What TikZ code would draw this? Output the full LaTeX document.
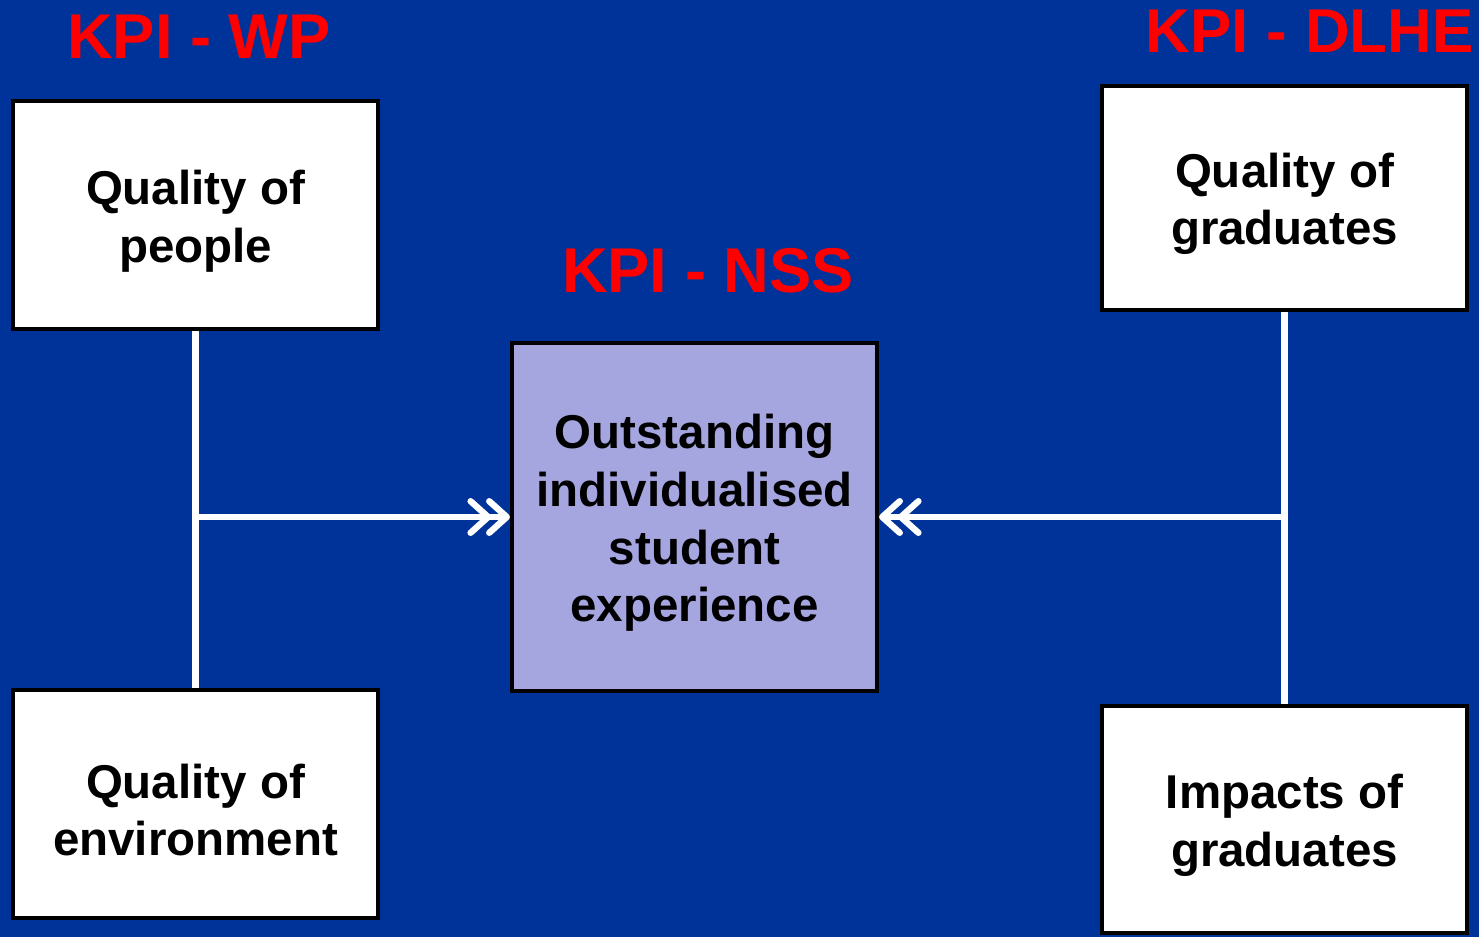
\documentclass[tikz,border=0pt]{standalone}
\usepackage{fontspec}
\setmainfont{Liberation Sans}
\usetikzlibrary{arrows.meta}
\definecolor{slideblue}{HTML}{003399}
\definecolor{lavender}{HTML}{A5A5E0}
\colorlet{kpired}{red}

\begin{document}
\begin{tikzpicture}[x=0.01cm,y=-0.01cm,
    box/.style={draw=black,line width=1.1pt,fill=white,
      minimum width=3.65cm,minimum height=2.28cm,inner sep=0pt},
    boxtext/.style={align=center,inner sep=0pt,
      font=\bfseries\fontsize{13.5}{16.4}\selectfont},
    kpi/.style={text=kpired,inner sep=0pt,font=\bfseries\fontsize{18}{20}\selectfont},
    wire/.style={draw=white,line width=1.8pt},
    dbl/.style={-{Straight Barb[length=5pt,width=9pt,round,sep=-1.5pt]Straight Barb[length=5pt,width=9pt,round]}}]
      \useasboundingbox (0,0) rectangle (1479,937);
      \fill [slideblue] (0,0) rectangle (1479,937);

      \node [kpi] (wp) at (199,37) {KPI - WP};
      \node [kpi] (nss) at (708,271) {KPI - NSS};
      \node [kpi,anchor=west,font=\bfseries\fontsize{17.6}{20}\selectfont] (dlhe) at (1145,31)
            {KPI -\hspace{0.3em}DLHE};

      \node [box] (people) at (195.5,215) {};
      \node [box] (environment) at (195.5,804) {};
      \node [box,fill=lavender,minimum height=3.48cm] (experience) at (694.5,517) {};
      \node [box,minimum height=2.24cm] (graduates) at (1284.5,198) {};
      \node [box,minimum height=2.27cm] (impacts) at (1284.5,819.5) {};

      \node [boxtext] (people-txt) at ([yshift=-1.7pt]people.center) {Quality of\\people};
      \node [boxtext] (environment-txt) at ([yshift=-1.7pt]environment.center) {Quality of\\environment};
      \node [boxtext] (experience-txt) at ([yshift=-1.7pt]experience.center)
            {Outstanding\\individualised\\student\\experience};
      \node [boxtext] (graduates-txt) at ([yshift=-1.7pt]graduates.center) {Quality of\\graduates};
      \node [boxtext] (impacts-txt) at ([yshift=-1.7pt]impacts.center) {Impacts of\\graduates};

      \draw [wire] (people.south) -- (environment.north);
      \draw [wire,dbl] (people.south |- experience.west) -- (experience.west);

      \draw [wire] (graduates.south) -- (impacts.north);
      \draw [wire,dbl] (graduates.south |- experience.east) -- (experience.east);

    \end{tikzpicture}
\end{document}
